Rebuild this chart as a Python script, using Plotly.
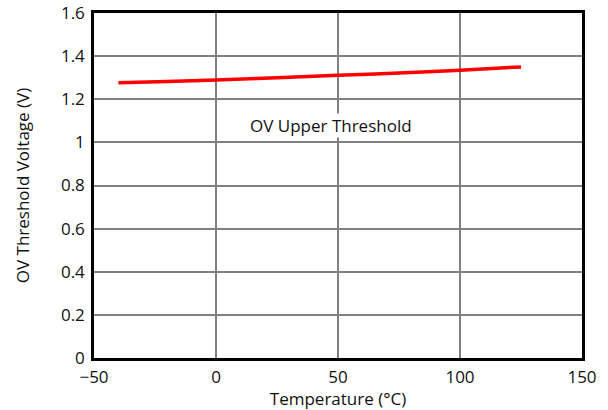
import plotly.graph_objects as go

temperature = [-40, -20, 0, 25, 50, 75, 100, 125]
ov_upper = [1.276, 1.282, 1.289, 1.300, 1.311, 1.322, 1.335, 1.350]

x_ticks = [-50, 0, 50, 100, 150]
x_tick_text = ["\u221250", "0", "50", "100", "150"]
y_ticks = [0, 0.2, 0.4, 0.6, 0.8, 1, 1.2, 1.4, 1.6]
y_tick_text = ["0", "0.2", "0.4", "0.6", "0.8", "1", "1.2", "1.4", "1.6"]

fig = go.Figure()
fig.add_trace(go.Scatter(x=temperature, y=ov_upper, mode="lines",
                         line=dict(color="#ff0000", width=3.5, shape="spline"),
                         showlegend=False))

fig.add_annotation(x=47, y=1.08, text="OV Upper Threshold", showarrow=False,
                   font=dict(size=17, color="#111111"), bgcolor="white", borderpad=0)

font = "Open Sans, Noto Sans, sans-serif"
fig.update_layout(
    width=608, height=410,
    margin=dict(l=94, r=26, t=13, b=52),
    paper_bgcolor="white", plot_bgcolor="white",
    font=dict(family=font, size=17, color="#111111"),
    xaxis=dict(range=[-50, 150], tickvals=x_ticks, ticktext=x_tick_text,
               showgrid=True, gridcolor="#808080", gridwidth=1.5,
               showline=True, linecolor="black", linewidth=2.5, mirror=True,
               zeroline=False, ticks="", ticklen=0, ticklabelstandoff=2,
               automargin=False,
               title=dict(text="Temperature (\u00b0C)", standoff=2, font=dict(size=17))),
    yaxis=dict(range=[0, 1.6], tickvals=y_ticks, ticktext=y_tick_text,
               showgrid=True, gridcolor="#808080", gridwidth=1.5,
               showline=True, linecolor="black", linewidth=2.5, mirror=True,
               zeroline=False, ticks="", ticklen=0, ticklabelstandoff=3,
               automargin=False,
               title=dict(text="OV Threshold Voltage (V)", standoff=27, font=dict(size=17))),
)

fig.write_html("out.html")
